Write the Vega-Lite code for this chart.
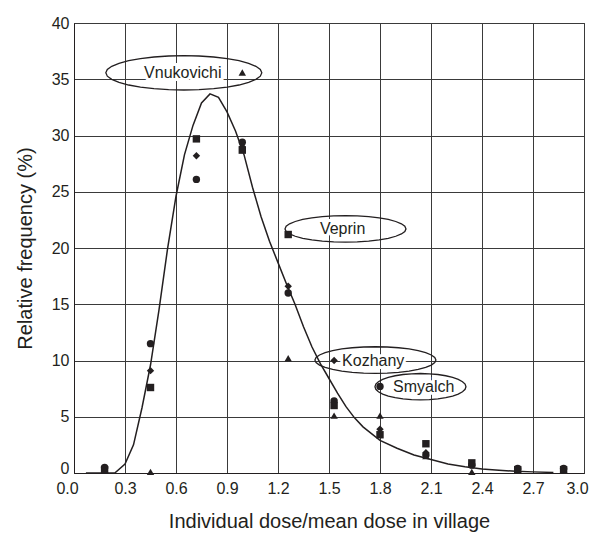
{
  "$schema": "https://vega.github.io/schema/vega-lite/v6.json",
  "width": 510,
  "height": 450,
  "autosize": {"type": "none"},
  "padding": {"left": 74, "top": 23, "right": 10, "bottom": 61},
  "background": "white",
  "config": {
    "font": "Liberation Sans",
    "view": {"stroke": "#231f20", "strokeWidth": 1},
    "axis": {
      "grid": true,
      "gridColor": "#3a3a3a",
      "gridWidth": 1,
      "gridOpacity": 1,
      "domainColor": "#231f20",
      "domainWidth": 1,
      "ticks": false,
      "labelFont": "Liberation Sans",
      "labelFontSize": 16,
      "labelColor": "#231f20",
      "titleFont": "Liberation Sans",
      "titleFontSize": 20,
      "titleFontWeight": "normal",
      "titleColor": "#231f20"
    }
  },
  "datasets": {
    "curve": [
      {"x": 0.07, "y": 0}, {"x": 0.24, "y": 0}, {"x": 0.30, "y": 0.8}, {"x": 0.35, "y": 2.5},
      {"x": 0.40, "y": 5.8}, {"x": 0.45, "y": 9.6}, {"x": 0.50, "y": 14.5}, {"x": 0.55, "y": 19.9},
      {"x": 0.60, "y": 24.6}, {"x": 0.65, "y": 28.3}, {"x": 0.70, "y": 30.9}, {"x": 0.75, "y": 32.9},
      {"x": 0.80, "y": 33.7}, {"x": 0.85, "y": 33.4}, {"x": 0.90, "y": 32.1}, {"x": 0.95, "y": 30.4},
      {"x": 1.00, "y": 28.3}, {"x": 1.05, "y": 25.4}, {"x": 1.10, "y": 22.8}, {"x": 1.15, "y": 20.6},
      {"x": 1.20, "y": 18.7}, {"x": 1.25, "y": 16.8}, {"x": 1.30, "y": 15.0}, {"x": 1.35, "y": 13.0},
      {"x": 1.40, "y": 11.2}, {"x": 1.45, "y": 9.7}, {"x": 1.50, "y": 8.4}, {"x": 1.55, "y": 7.1},
      {"x": 1.60, "y": 5.9}, {"x": 1.65, "y": 4.9}, {"x": 1.70, "y": 4.1}, {"x": 1.80, "y": 2.9},
      {"x": 1.90, "y": 2.2}, {"x": 2.00, "y": 1.6}, {"x": 2.10, "y": 1.2}, {"x": 2.20, "y": 0.8},
      {"x": 2.30, "y": 0.55}, {"x": 2.40, "y": 0.36}, {"x": 2.50, "y": 0.24}, {"x": 2.60, "y": 0.15},
      {"x": 2.70, "y": 0.1}, {"x": 2.82, "y": 0.05}
    ],
    "points": [
      {"village": "Smyalch", "x": 0.18, "y": 0.5}, {"village": "Smyalch", "x": 0.45, "y": 11.5},
      {"village": "Smyalch", "x": 0.72, "y": 26.1}, {"village": "Smyalch", "x": 0.99, "y": 29.4},
      {"village": "Smyalch", "x": 1.26, "y": 16.0}, {"village": "Smyalch", "x": 1.53, "y": 6.4},
      {"village": "Smyalch", "x": 1.80, "y": 7.7}, {"village": "Smyalch", "x": 2.07, "y": 1.6},
      {"village": "Smyalch", "x": 2.34, "y": 0.7}, {"village": "Smyalch", "x": 2.61, "y": 0.4},
      {"village": "Smyalch", "x": 2.88, "y": 0.4},
      {"village": "Kozhany", "x": 0.18, "y": 0.4}, {"village": "Kozhany", "x": 0.45, "y": 9.1},
      {"village": "Kozhany", "x": 0.72, "y": 28.2}, {"village": "Kozhany", "x": 0.99, "y": 29.0},
      {"village": "Kozhany", "x": 1.26, "y": 16.6}, {"village": "Kozhany", "x": 1.53, "y": 10.0},
      {"village": "Kozhany", "x": 1.80, "y": 3.9}, {"village": "Kozhany", "x": 2.07, "y": 1.8},
      {"village": "Kozhany", "x": 2.34, "y": 0.8}, {"village": "Kozhany", "x": 2.61, "y": 0.3},
      {"village": "Kozhany", "x": 2.88, "y": 0.3},
      {"village": "Veprin", "x": 0.18, "y": 0.3}, {"village": "Veprin", "x": 0.45, "y": 7.6},
      {"village": "Veprin", "x": 0.72, "y": 29.7}, {"village": "Veprin", "x": 0.99, "y": 28.7},
      {"village": "Veprin", "x": 1.26, "y": 21.2}, {"village": "Veprin", "x": 1.53, "y": 6.0},
      {"village": "Veprin", "x": 1.80, "y": 3.4}, {"village": "Veprin", "x": 2.07, "y": 2.6},
      {"village": "Veprin", "x": 2.34, "y": 0.9}, {"village": "Veprin", "x": 2.61, "y": 0.3},
      {"village": "Veprin", "x": 2.88, "y": 0.3},
      {"village": "Vnukovichi", "x": 0.18, "y": 0.3}, {"village": "Vnukovichi", "x": 0.45, "y": 0.1},
      {"village": "Vnukovichi", "x": 0.99, "y": 35.6}, {"village": "Vnukovichi", "x": 1.26, "y": 10.2},
      {"village": "Vnukovichi", "x": 1.53, "y": 5.1}, {"village": "Vnukovichi", "x": 1.80, "y": 5.1},
      {"village": "Vnukovichi", "x": 2.07, "y": 1.5}, {"village": "Vnukovichi", "x": 2.34, "y": 0.1},
      {"village": "Vnukovichi", "x": 2.61, "y": 0.3}, {"village": "Vnukovichi", "x": 2.88, "y": 0.3}
    ],
    "labels": [
      {"label": "Vnukovichi", "x": 0.646, "y": 35.57, "tx": 0.64, "ty": 35.6},
      {"label": "Veprin", "x": 1.597, "y": 21.7, "tx": 1.58, "ty": 21.67},
      {"label": "Kozhany", "x": 1.773, "y": 10.04, "tx": 1.76, "ty": 10.0},
      {"label": "Smyalch", "x": 2.038, "y": 7.67, "tx": 2.057, "ty": 7.67}
    ]
  },
  "encoding": {
    "x": {
      "field": "x",
      "type": "quantitative",
      "title": "Individual dose/mean dose in village",
      "scale": {"domain": [0, 3], "nice": false, "zero": false},
      "axis": {
        "values": [0, 0.3, 0.6, 0.9, 1.2, 1.5, 1.8, 2.1, 2.4, 2.7, 3.0],
        "format": ".1f",
        "labelPadding": 7,
        "titlePadding": 15,
        "labelFlush": false,
        "labelOffset": {"condition": {"test": "datum.value === 0 || datum.value === 3", "value": -7}, "value": 0}
      }
    },
    "y": {
      "field": "y",
      "type": "quantitative",
      "title": "Relative frequency (%)",
      "scale": {"domain": [0, 40], "nice": false},
      "axis": {
        "values": [0, 5, 10, 15, 20, 25, 30, 35, 40],
        "labelPadding": 5,
        "titlePadding": 16,
        "labelFlush": false,
        "labelOffset": {"condition": {"test": "datum.value === 0", "value": -5}, "value": 0}
      }
    }
  },
  "layer": [
    {
      "data": {"name": "curve"},
      "mark": {"type": "line", "color": "#231f20", "strokeWidth": 1.5, "interpolate": "linear"}
    },
    {
      "data": {"name": "labels"},
      "mark": {"type": "text", "fontSize": 16, "font": "Liberation Sans", "color": "white", "stroke": "white", "strokeWidth": 6, "baseline": "middle", "align": "center"},
      "encoding": {
        "x": {"field": "tx", "type": "quantitative", "title": "Individual dose/mean dose in village"},
        "y": {"field": "ty", "type": "quantitative", "title": "Relative frequency (%)"},
        "text": {"field": "label"}
      }
    },
    {
      "data": {"name": "labels"},
      "transform": [{"filter": "datum.label === 'Vnukovichi'"}],
      "mark": {"type": "point", "filled": false, "stroke": "#231f20", "strokeWidth": 1.3, "opacity": 1, "size": 24336,
        "shape": "M1,0L0.981,0.043L0.924,0.084L0.831,0.122L0.707,0.156L0.556,0.183L0.383,0.203L0.195,0.216L0,0.22L-0.195,0.216L-0.383,0.203L-0.556,0.183L-0.707,0.156L-0.831,0.122L-0.924,0.084L-0.981,0.043L-1,0L-0.981,-0.043L-0.924,-0.084L-0.831,-0.122L-0.707,-0.156L-0.556,-0.183L-0.383,-0.203L-0.195,-0.216L0,-0.22L0.195,-0.216L0.383,-0.203L0.556,-0.183L0.707,-0.156L0.831,-0.122L0.924,-0.084L0.981,-0.043Z"}
    },
    {
      "data": {"name": "labels"},
      "transform": [{"filter": "datum.label === 'Veprin' || datum.label === 'Kozhany'"}],
      "mark": {"type": "point", "filled": false, "stroke": "#231f20", "strokeWidth": 1.3, "opacity": 1, "size": 14641,
        "shape": "M1,0L0.981,0.043L0.924,0.084L0.831,0.122L0.707,0.156L0.556,0.183L0.383,0.203L0.195,0.216L0,0.22L-0.195,0.216L-0.383,0.203L-0.556,0.183L-0.707,0.156L-0.831,0.122L-0.924,0.084L-0.981,0.043L-1,0L-0.981,-0.043L-0.924,-0.084L-0.831,-0.122L-0.707,-0.156L-0.556,-0.183L-0.383,-0.203L-0.195,-0.216L0,-0.22L0.195,-0.216L0.383,-0.203L0.556,-0.183L0.707,-0.156L0.831,-0.122L0.924,-0.084L0.981,-0.043Z"}
    },
    {
      "data": {"name": "labels"},
      "transform": [{"filter": "datum.label === 'Smyalch'"}],
      "mark": {"type": "point", "filled": false, "stroke": "#231f20", "strokeWidth": 1.3, "opacity": 1, "size": 8281,
        "shape": "M1,0L0.981,0.057L0.924,0.111L0.831,0.161L0.707,0.205L0.556,0.241L0.383,0.268L0.195,0.284L0,0.29L-0.195,0.284L-0.383,0.268L-0.556,0.241L-0.707,0.205L-0.831,0.161L-0.924,0.111L-0.981,0.057L-1,0L-0.981,-0.057L-0.924,-0.111L-0.831,-0.161L-0.707,-0.205L-0.556,-0.241L-0.383,-0.268L-0.195,-0.284L0,-0.29L0.195,-0.284L0.383,-0.268L0.556,-0.241L0.707,-0.205L0.831,-0.161L0.924,-0.111L0.981,-0.057Z"}
    },
    {
      "data": {"name": "points"},
      "mark": {"type": "point", "filled": true, "opacity": 1, "size": 55, "color": "#231f20"},
      "encoding": {
        "shape": {
          "field": "village",
          "type": "nominal",
          "scale": {"domain": ["Smyalch", "Kozhany", "Veprin", "Vnukovichi"], "range": ["circle", "diamond", "square", "triangle-up"]},
          "legend": null
        }
      }
    },
    {
      "data": {"name": "labels"},
      "mark": {"type": "text", "fontSize": 16, "font": "Liberation Sans", "color": "#231f20", "baseline": "middle", "align": "center"},
      "encoding": {
        "x": {"field": "tx", "type": "quantitative", "title": "Individual dose/mean dose in village"},
        "y": {"field": "ty", "type": "quantitative", "title": "Relative frequency (%)"},
        "text": {"field": "label"}
      }
    }
  ]
}
